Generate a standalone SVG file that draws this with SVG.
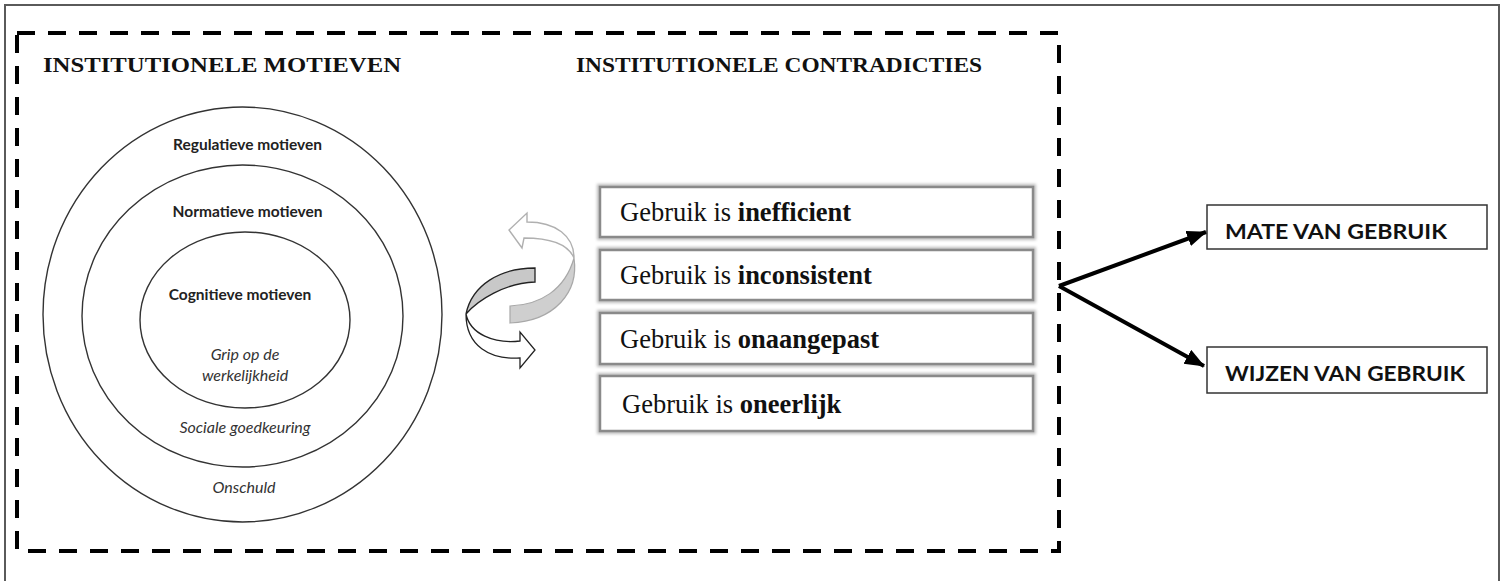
<svg xmlns="http://www.w3.org/2000/svg" width="1505" height="581" viewBox="0 0 1505 581">
  <style>
    .title { font-family: "Liberation Serif", "Times New Roman", serif; font-weight: bold; font-size: 22px; fill: #111; }
    .ring-b { font-family: Lato, "Liberation Sans", sans-serif; font-weight: bold; font-size: 15.5px; fill: #222; text-anchor: middle; }
    .ring-i { font-family: Lato, "Liberation Sans", sans-serif; font-style: italic; font-size: 16px; fill: #333; text-anchor: middle; }
    .ring { fill: none; stroke: #333; stroke-width: 1.4; }
    .cbox { fill: #fff; stroke: #8a8a8a; stroke-width: 2.5; }
    .cglow { fill: none; stroke: #bdbdbd; stroke-width: 6; filter: url(#soft); }
    .ctext { font-family: "Liberation Serif", "Times New Roman", serif; font-size: 26.5px; fill: #111; }
    .ctext tspan.b { font-weight: bold; }
    .obox { fill: #fff; stroke: #333; stroke-width: 1.5; }
    .otext { font-family: Lato, "Liberation Sans", sans-serif; font-weight: bold; font-size: 20px; fill: #111; }
    .conn { stroke: #000; stroke-width: 4; fill: none; marker-end: url(#head); }
  </style>
  <defs>
    <filter id="soft" x="-10%" y="-30%" width="120%" height="160%">
      <feGaussianBlur stdDeviation="1.6"/>
    </filter>
    <marker id="head" markerUnits="userSpaceOnUse" markerWidth="22" markerHeight="18" refX="19" refY="8" orient="auto">
      <path d="M0,0 L20,8 L0,16 Z" fill="#000"/>
    </marker>
  </defs>

  <rect width="1505" height="581" fill="#fff"/>
  <!-- frame -->
  <path d="M5,590 L5,5 L1499,5 L1499,590" fill="none" stroke="#5a5a5a" stroke-width="2"/>
  <!-- dashed boundary -->
  <rect x="17" y="33" width="1042" height="518" fill="none" stroke="#000" stroke-width="4" stroke-dasharray="18 13"/>

  <text class="title" x="43" y="72" textLength="358" lengthAdjust="spacingAndGlyphs">INSTITUTIONELE MOTIEVEN</text>
  <text class="title" x="576" y="72" textLength="406" lengthAdjust="spacingAndGlyphs">INSTITUTIONELE CONTRADICTIES</text>

  <!-- concentric motive rings -->
  <g id="motieven">
    <ellipse class="ring" cx="242.5" cy="314.5" rx="199.5" ry="207.5"/>
    <ellipse class="ring" cx="242.5" cy="316" rx="160.5" ry="151"/>
    <ellipse class="ring" cx="245" cy="320" rx="105" ry="88"/>
    <text class="ring-b" x="247.5" y="150">Regulatieve motieven</text>
    <text class="ring-b" x="247.5" y="217">Normatieve motieven</text>
    <text class="ring-b" x="240" y="300">Cognitieve motieven</text>
    <text class="ring-i" x="245" y="360">Grip op de</text>
    <text class="ring-i" x="245" y="381">werkelijkheid</text>
    <text class="ring-i" x="245" y="433">Sociale goedkeuring</text>
    <text class="ring-i" x="244" y="493">Onschuld</text>
  </g>

  <!-- circular exchange arrows -->
  <g id="wisselwerking">
    <path d="M510,306 C540,305 565,290 574,258 C579,292 555,321 510,323 Z" fill="#cfcfcf" stroke="#a8a8a8" stroke-width="1.2"/>
    <path d="M574,258 C574,236 556,222 527,222 L527,213 L509,230 L522,248 L524,238 C550,238 568,244 574,258 Z" fill="#fff" stroke="#b0b0b0" stroke-width="1.4"/>
    <path d="M535,268 C500,268 472,285 466,314 C478,300 505,283 535,282 Z" fill="#c8c8c8" stroke="#222" stroke-width="1.3"/>
    <path d="M466,314 C470,334 494,344 520,341 L520,332 L535,350 L520,368 L520,358 C490,360 466,346 466,314 Z" fill="#fff" stroke="#222" stroke-width="1.3"/>
  </g>

  <!-- contradiction boxes -->
  <g id="inefficient">
    <rect class="cglow" x="600" y="187" width="433" height="50"/>
    <rect class="cbox" x="600" y="187" width="433" height="50"/>
    <text class="ctext" x="620" y="221">Gebruik is <tspan class="b">inefficient</tspan></text>
  </g>
  <g id="inconsistent">
    <rect class="cglow" x="600" y="250" width="433" height="50"/>
    <rect class="cbox" x="600" y="250" width="433" height="50"/>
    <text class="ctext" x="620" y="284">Gebruik is <tspan class="b">inconsistent</tspan></text>
  </g>
  <g id="onaangepast">
    <rect class="cglow" x="600" y="313" width="433" height="51"/>
    <rect class="cbox" x="600" y="313" width="433" height="51"/>
    <text class="ctext" x="620" y="348">Gebruik is <tspan class="b">onaangepast</tspan></text>
  </g>
  <g id="oneerlijk">
    <rect class="cglow" x="600" y="376" width="433" height="55"/>
    <rect class="cbox" x="600" y="376" width="433" height="55"/>
    <text class="ctext" x="622" y="413">Gebruik is <tspan class="b">oneerlijk</tspan></text>
  </g>

  <!-- outcomes -->
  <g id="mate">
    <rect class="obox" x="1207" y="205" width="280" height="44"/>
    <text class="otext" x="1225" y="239" textLength="222" lengthAdjust="spacingAndGlyphs">MATE VAN GEBRUIK</text>
  </g>
  <g id="wijzen">
    <rect class="obox" x="1207" y="347" width="280" height="46"/>
    <text class="otext" x="1225" y="381" textLength="240" lengthAdjust="spacingAndGlyphs">WIJZEN VAN GEBRUIK</text>
  </g>

  <g id="connectors">
    <line class="conn" x1="1059" y1="286" x2="1206" y2="232"/>
    <line class="conn" x1="1059" y1="286" x2="1204" y2="366"/>
  </g>
</svg>
